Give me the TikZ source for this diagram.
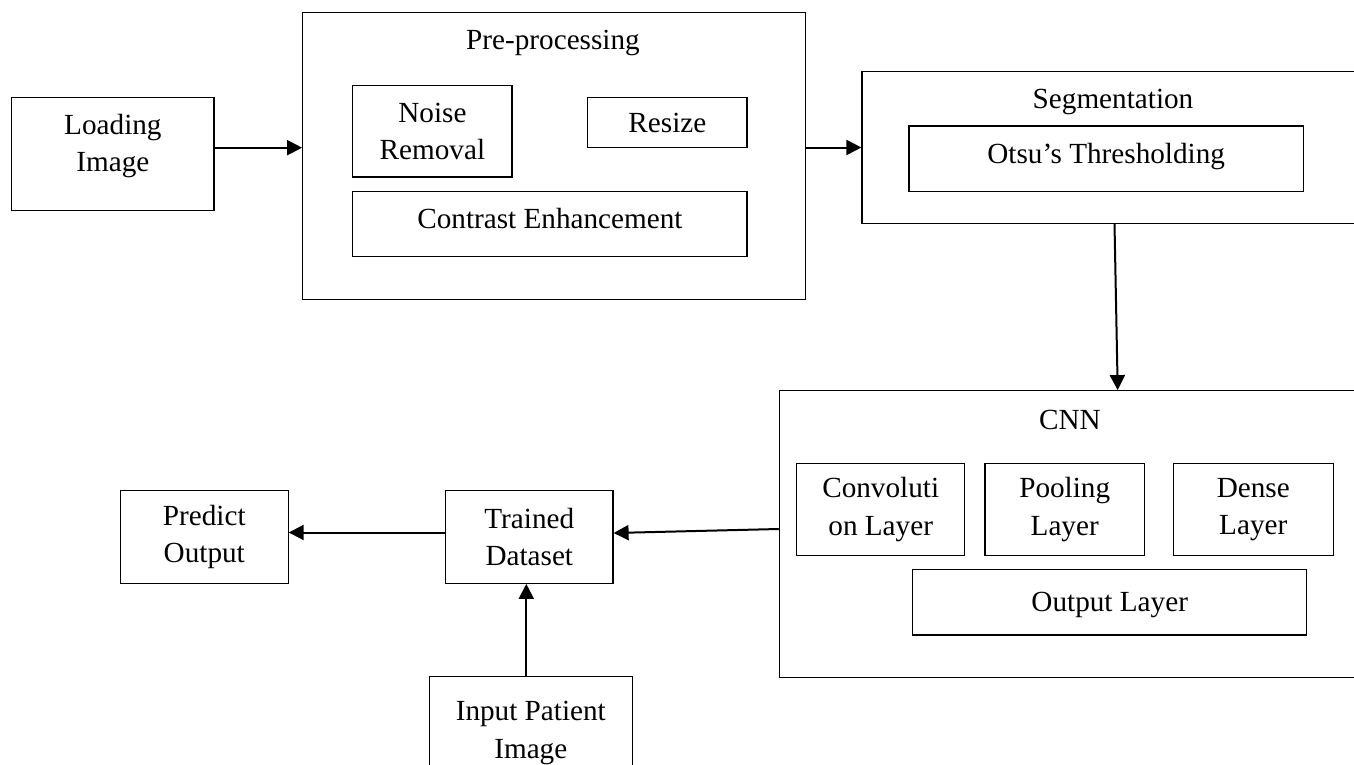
\documentclass[tikz,border=0pt]{standalone}
\usepackage{fontspec}
\setmainfont{Liberation Serif}
\usetikzlibrary{positioning,arrows.meta}

\begin{document}
\begin{tikzpicture}[x=0.5pt,y=-0.5pt,
    font=\fontsize{14.6}{18.75}\selectfont,
    >={Triangle[length=7.5pt,width=7.5pt]},
    blk/.style={rectangle,draw,line width=0.6pt,align=center,inner sep=0pt},
    arr/.style={->,line width=1pt}]
  \useasboundingbox (0,0) rectangle (1354,765);
  \clip (0,0) rectangle (1354,765);

  % first row
  \node[blk,minimum width=101.15pt,minimum height=56.5pt,text depth=11.2pt] (load) at (112.9,154.2) {Loading\\Image};
  \node[blk,minimum width=251.2pt,minimum height=143.3pt] (prep) at (553.9,156) {};
  \node[anchor=base] (preptitle) at (553,50) {Pre-processing};
  \node[blk,minimum width=79.65pt,minimum height=45.65pt] (noise) at (432.4,131.4) {Noise\\Removal};
  \node[blk,minimum width=79.65pt,minimum height=24.8pt] (resize) at (667.4,122.5) {Resize};
  \node[blk,minimum width=197.15pt,minimum height=32.7pt,text depth=6pt] (contrast) at (549.9,224) {Contrast Enhancement};
  \node[blk,minimum width=250.5pt,minimum height=75.8pt] (seg) at (1112.5,147.5) {};
  \node[anchor=base] (segtitle) at (1113,109) {Segmentation};
  \node[blk,minimum width=197.15pt,minimum height=32.85pt,text depth=5.2pt] (otsu) at (1106.2,158.9) {Otsu’s Thresholding};

  % cnn block
  \node[blk,minimum width=291.35pt,minimum height=143.3pt] (cnn) at (1070.7,534) {};
  \node[anchor=base] (cnntitle) at (1070,429) {CNN};
  \node[blk,minimum width=84pt,minimum height=46.2pt] (conv) at (880.7,509.5) {Convoluti\\on Layer};
  \node[blk,minimum width=79.8pt,minimum height=46.2pt,right=9.5pt of conv] (pool) {Pooling\\Layer};
  \node[blk,minimum width=80.15pt,minimum height=46.2pt,right=13.7pt of pool] (dense) {Dense\\Layer};
  \node[blk,minimum width=197pt,minimum height=32.85pt,text depth=0pt] (outlayer) at (1109.7,602.2) {Output Layer};

  % bottom row
  \node[blk,minimum width=83.7pt,minimum height=46.3pt] (trained) at (529.3,537) {Trained\\Dataset};
  \node[blk,minimum width=83.8pt,minimum height=46.3pt,left=78.15pt of trained] (predict) {Predict\\Output};
  \node[blk,minimum width=101.5pt,minimum height=56.5pt] (patient) at (530.8,733.2) {Input Patient\\Image};

  \draw[arr] ([yshift=3.25pt]load.east) -- ([yshift=3.25pt]load.east -| prep.west);
  \draw[arr] (seg.west -| prep.east) -- (seg.west);
  \draw[arr] ([xshift=1pt]seg.south) -- ([xshift=23.5pt]cnn.north);
  \draw[arr] ([yshift=2.5pt]cnn.west) -- ([yshift=2pt]trained.east);
  \draw[arr] ([yshift=2.25pt]trained.west) -- ([yshift=2.25pt]predict.east);
  \draw[arr] ([xshift=-2.25pt]patient.north) -- ([xshift=-2.25pt]patient.north |- trained.south);
\end{tikzpicture}
\end{document}
